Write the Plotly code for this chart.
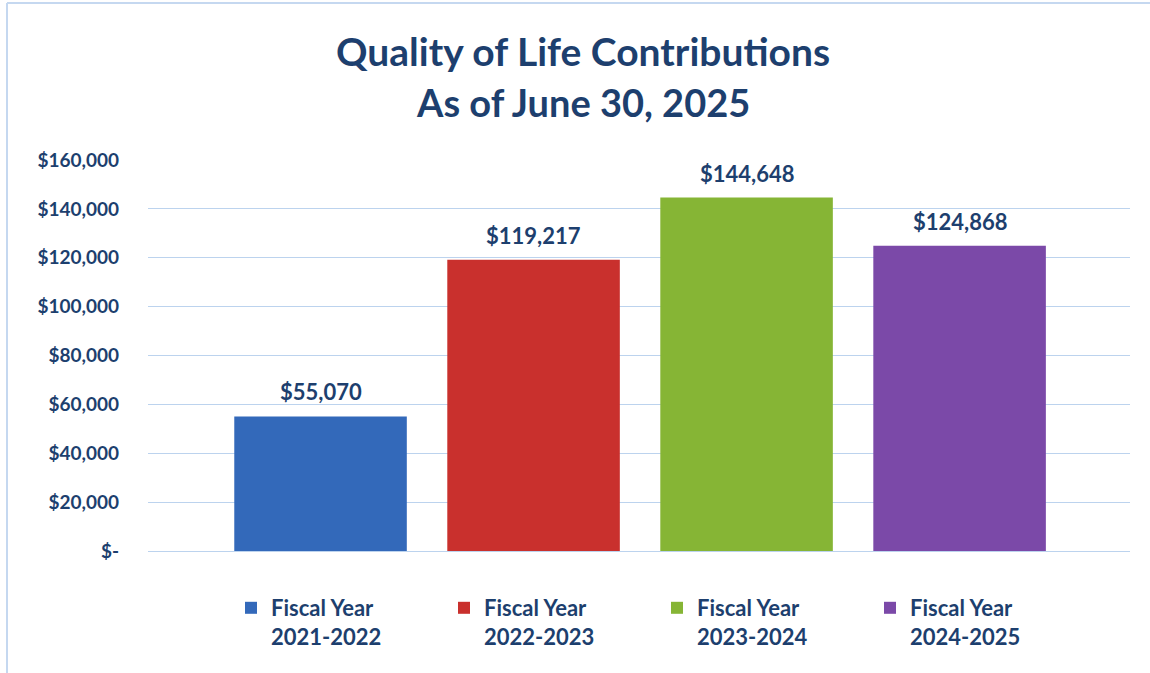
import plotly.graph_objects as go

# ---- data ----
fiscal_years = ["2021-2022", "2022-2023", "2023-2024", "2024-2025"]
contributions = [55070, 119217, 144648, 124868]
bar_colors = ["#3369BA", "#C9302D", "#86B535", "#7B49A8"]
tick_values = [0, 20000, 40000, 60000, 80000, 100000, 120000, 140000, 160000]
tick_labels = ["$-", "$20,000", "$40,000", "$60,000", "$80,000",
               "$100,000", "$120,000", "$140,000", "$160,000"]
title_line1 = "Quality of Life Contributions"
title_line2 = "As of June 30, 2025"

NAVY = "#1D3F6E"
GRID = "#BCD3EE"
FONT = "Lato"

W, H = 1150, 673
ML, MR, MT, MB = 148, 20, 160, 122

fig = go.Figure()
for fy, val, col in zip(fiscal_years, contributions, bar_colors):
    fig.add_trace(go.Bar(
        x=[fy], y=[val], name=f"Fiscal Year<br>{fy}",
        marker=dict(color=col, line=dict(width=0)),
        width=0.81,
    ))

pw = W - ML - MR
ph = H - MT - MB
def px_x(px):
    return (px - ML) / pw
def px_y(py):
    return (H - MB - py) / ph

annotations = [dict(text=title_line2, xref="paper", yref="paper",
                    x=px_x(583), y=px_y(102), xanchor="center", yanchor="middle",
                    showarrow=False,
                    font=dict(family=FONT, size=38, color=NAVY, weight=700))]
for fy, val in zip(fiscal_years, contributions):
    annotations.append(dict(
        x=fy, y=val, xref="x", yref="y", text=f"${val:,}",
        showarrow=False, xanchor="center", yanchor="bottom", yshift=9,
        font=dict(family=FONT, size=22, color=NAVY, weight=700)))

fig.update_layout(
    width=W, height=H,
    margin=dict(l=ML, r=MR, t=MT, b=MB),
    paper_bgcolor="white", plot_bgcolor="white",
    barmode="overlay",
    title=dict(text=title_line1, x=0.507, xanchor="center", y=1 - 52 / H, yanchor="middle",
               font=dict(family=FONT, size=39, color=NAVY, weight=700)),
    xaxis=dict(type="category", range=[-0.81, 3.80], showticklabels=False,
               showgrid=False, zeroline=False, showline=False, ticks=""),
    yaxis=dict(range=[0, 160000], tickvals=tick_values, ticktext=tick_labels,
               showgrid=True, gridcolor=GRID, gridwidth=1,
               zeroline=True, zerolinecolor=GRID, zerolinewidth=1,
               showline=False, ticks="", ticklabelstandoff=28,
               tickfont=dict(family=FONT, size=19, color=NAVY, weight=700)),
    legend=dict(orientation="h", x=px_x(231), xanchor="left", y=px_y(587), yanchor="top",
                valign="top", entrywidth=168, itemwidth=30,
                font=dict(family=FONT, size=22, color=NAVY, weight=700),
                bgcolor="rgba(0,0,0,0)", tracegroupgap=0),
    annotations=annotations,
    shapes=[
        dict(type="line", xref="paper", yref="paper", x0=px_x(7), x1=px_x(1150),
             y0=px_y(3), y1=px_y(3), line=dict(color="#C5D8F0", width=2)),
        dict(type="line", xref="paper", yref="paper", x0=px_x(7), x1=px_x(7),
             y0=px_y(3), y1=px_y(673), line=dict(color="#C5D8F0", width=2)),
    ],
)

fig.write_html("out.html")
